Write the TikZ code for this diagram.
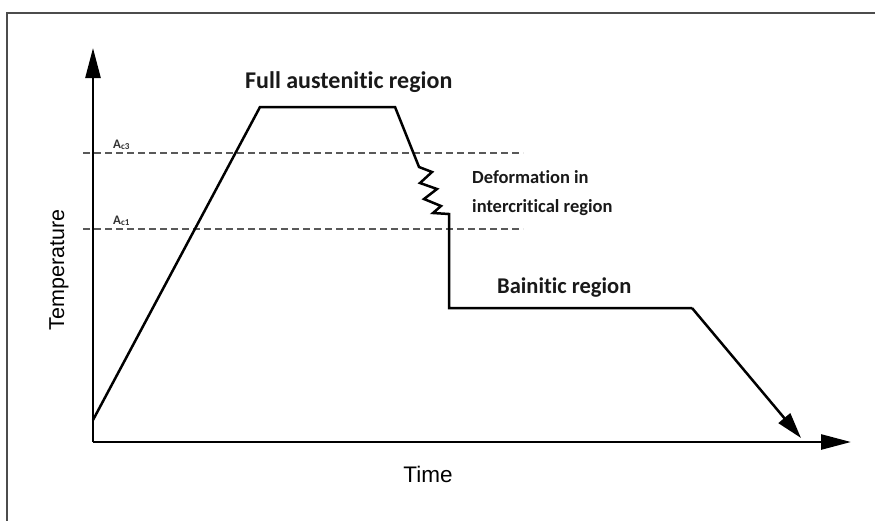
\documentclass[tikz,border=0pt]{standalone}
\usepackage{fontspec}
\setmainfont{Carlito}[Ligatures=CommonOff]
\newfontfamily\arialf{Liberation Sans}
\usetikzlibrary{arrows.meta}
\begin{document}
\begin{tikzpicture}[x=1pt,y=-1pt,
  axis/.style={line width=2.6pt,-{Triangle[length=30pt,width=15pt]}},
  curve/.style={line width=2.5pt,line join=miter},
  crit/.style={line width=1.1pt,draw=black!65,dash pattern=on 7pt off 4pt},
  lbl/.style={font=\fontsize{#1}{#1}\selectfont\bfseries,text=black!90,inner sep=0pt},
  axlbl/.style={font=\arialf\fontsize{#1}{#1}\selectfont,inner sep=0pt},
  crl/.style={font=\fontsize{13}{13}\selectfont\bfseries,text=black!80,inner sep=0pt}]
\useasboundingbox (0,0) rectangle (875,520);
\fill[white] (0,0) rectangle (875,520);
% frame
\draw[line width=2.2pt,draw=black!70] (7,521) -- (7,13) -- (876,13);
% axes
\coordinate (O) at (93,442);
\coordinate (Ytip) at (93,48);
\coordinate (Xtip) at (851,442);
\draw[axis] (O) -- (Ytip);
\draw[axis] (O) -- (Xtip);
% critical temperatures
\coordinate (c3a) at (83,153); \coordinate (c3b) at (523,153);
\coordinate (c1a) at (83,229); \coordinate (c1b) at (523,229);
\draw[crit] (c3a) -- (c3b);
\draw[crit] (c1a) -- (c1b);
\node[crl,anchor=base west] (Ac3) at (113,148) {A\textsubscript{c3}};
\node[crl,anchor=base west] (Ac1) at (113,224) {A\textsubscript{c1}};
% thermal path
\draw[curve] (93,420) -- (260,107) -- (395,107) -- (419,167)
  -- (432,172) -- (420,183) -- (437,189) -- (424,199) -- (441,206)
  -- (433,213) -- (449,214) -- (449,308) -- (692,308);
\draw[curve,-{Triangle[length=26pt,width=15pt]}] (692,308) -- (801,438);
% labels
\node[lbl=24,anchor=base west] (full) at (245,88) {Full austenitic region};
\node[lbl=18.5,anchor=base west] (def1) at (472,183) {Deformation in};
\node[lbl=18.5,anchor=base west] (def2) at (472,212) {intercritical region};
\node[lbl=22.5,anchor=base west] (bain) at (497,293) {Bainitic region};
\node[axlbl=21.5,rotate=90] (temp) at (59,270) {Temperature};
\node[axlbl=22.5,anchor=base] (time) at (428,482) {Time};
\end{tikzpicture}
\end{document}
